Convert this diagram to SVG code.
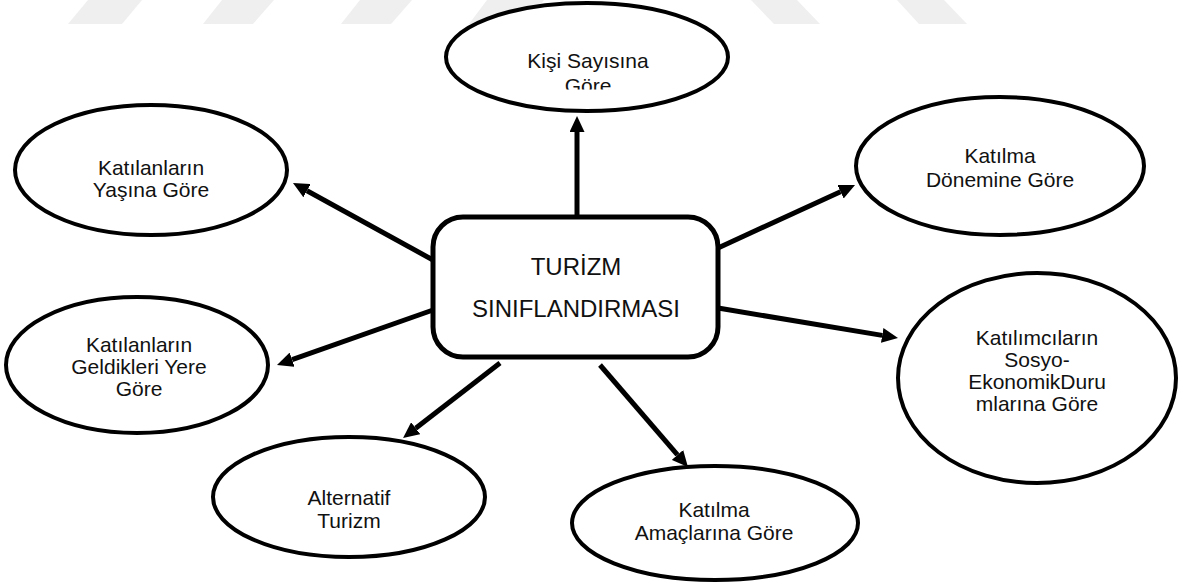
<svg xmlns="http://www.w3.org/2000/svg" width="1192" height="585" viewBox="0 0 1192 585">
<style>
.wm{fill:#efefef;stroke:none}
.node{fill:#ffffff;stroke:#000000;stroke-width:4}
.center{fill:#ffffff;stroke:#000000;stroke-width:5}
.t{font-family:"Liberation Sans",Arial,sans-serif;font-size:21px;fill:#111111;text-anchor:middle}
.tc{font-family:"Liberation Sans",Arial,sans-serif;font-size:24px;fill:#111111;text-anchor:middle}
.conn{stroke:#000000;stroke-width:5;fill:none;marker-end:url(#ah)}
</style>
<defs>
<marker id="ah" viewBox="0 0 16 15" markerWidth="16" markerHeight="15" refX="0" refY="7.5" markerUnits="userSpaceOnUse" orient="auto">
<path d="M0,0 L16,7.5 L0,15 Z" fill="#000000"/>
</marker>
<clipPath id="clipKisi"><rect x="440" y="0" width="300" height="89.5"/></clipPath>
</defs>
<rect width="1192" height="585" fill="#ffffff"/>
<g id="watermark">
<polygon class="wm" points="88,0 142,0 122,24 68,24"/>
<polygon class="wm" points="222,0 274,0 253,24 203,24"/>
<polygon class="wm" points="360,0 412,0 391,24 341,24"/>
<polygon class="wm" points="487,0 544,0 525,24 469,24"/>
<polygon class="wm" points="751,0 797,0 820,24 774,24"/>
<polygon class="wm" points="897,0 944,0 967,24 919,24"/>
</g>
<g id="connectors">
<line class="conn" x1="577" y1="217" x2="577" y2="132"/>
<line class="conn" x1="718" y1="248" x2="840.5" y2="191.7"/>
<line class="conn" x1="433" y1="260" x2="307" y2="190.7"/>
<line class="conn" x1="433" y1="310" x2="292.1" y2="359.7"/>
<line class="conn" x1="500" y1="363" x2="415.7" y2="428.2"/>
<line class="conn" x1="600" y1="365" x2="677.5" y2="454.9"/>
<line class="conn" x1="718" y1="308" x2="882.2" y2="335.4"/>
</g>
<g id="node-center">
<rect class="center" x="433" y="217" width="285" height="140" rx="30" ry="30"/>
<text class="tc" x="576" y="275">TURİZM</text>
<text class="tc" x="576" y="317">SINIFLANDIRMASI</text>
</g>
<g id="node-kisi">
<ellipse class="node" cx="587" cy="57" rx="141" ry="54"/>
<g clip-path="url(#clipKisi)">
<text class="t" x="588" y="68">Kişi Sayısına</text>
<text class="t" x="588" y="93">Göre</text>
</g>
</g>
<g id="node-donem">
<ellipse class="node" cx="1000" cy="166" rx="144" ry="69"/>
<text class="t" x="1000" y="163">Katılma</text>
<text class="t" x="1000" y="187">Dönemine Göre</text>
</g>
<g id="node-yas">
<ellipse class="node" cx="151" cy="170" rx="136" ry="65"/>
<text class="t" x="151" y="175">Katılanların</text>
<text class="t" x="151" y="197">Yaşına Göre</text>
</g>
<g id="node-yer">
<ellipse class="node" cx="137" cy="365" rx="131" ry="68"/>
<text class="t" x="139" y="352">Katılanların</text>
<text class="t" x="139" y="374">Geldikleri Yere</text>
<text class="t" x="139" y="396">Göre</text>
</g>
<g id="node-alternatif">
<ellipse class="node" cx="349" cy="497" rx="136" ry="60"/>
<text class="t" x="349" y="505">Alternatif</text>
<text class="t" x="349" y="528">Turizm</text>
</g>
<g id="node-amac">
<ellipse class="node" cx="715" cy="523" rx="143" ry="57"/>
<text class="t" x="714" y="517">Katılma</text>
<text class="t" x="714" y="540">Amaçlarına Göre</text>
</g>
<g id="node-sosyo">
<ellipse class="node" cx="1037" cy="378" rx="139" ry="105"/>
<text class="t" x="1037" y="345">Katılımcıların</text>
<text class="t" x="1037" y="367">Sosyo-</text>
<text class="t" x="1037" y="389">EkonomikDuru</text>
<text class="t" x="1037" y="411">mlarına Göre</text>
</g>
</svg>
